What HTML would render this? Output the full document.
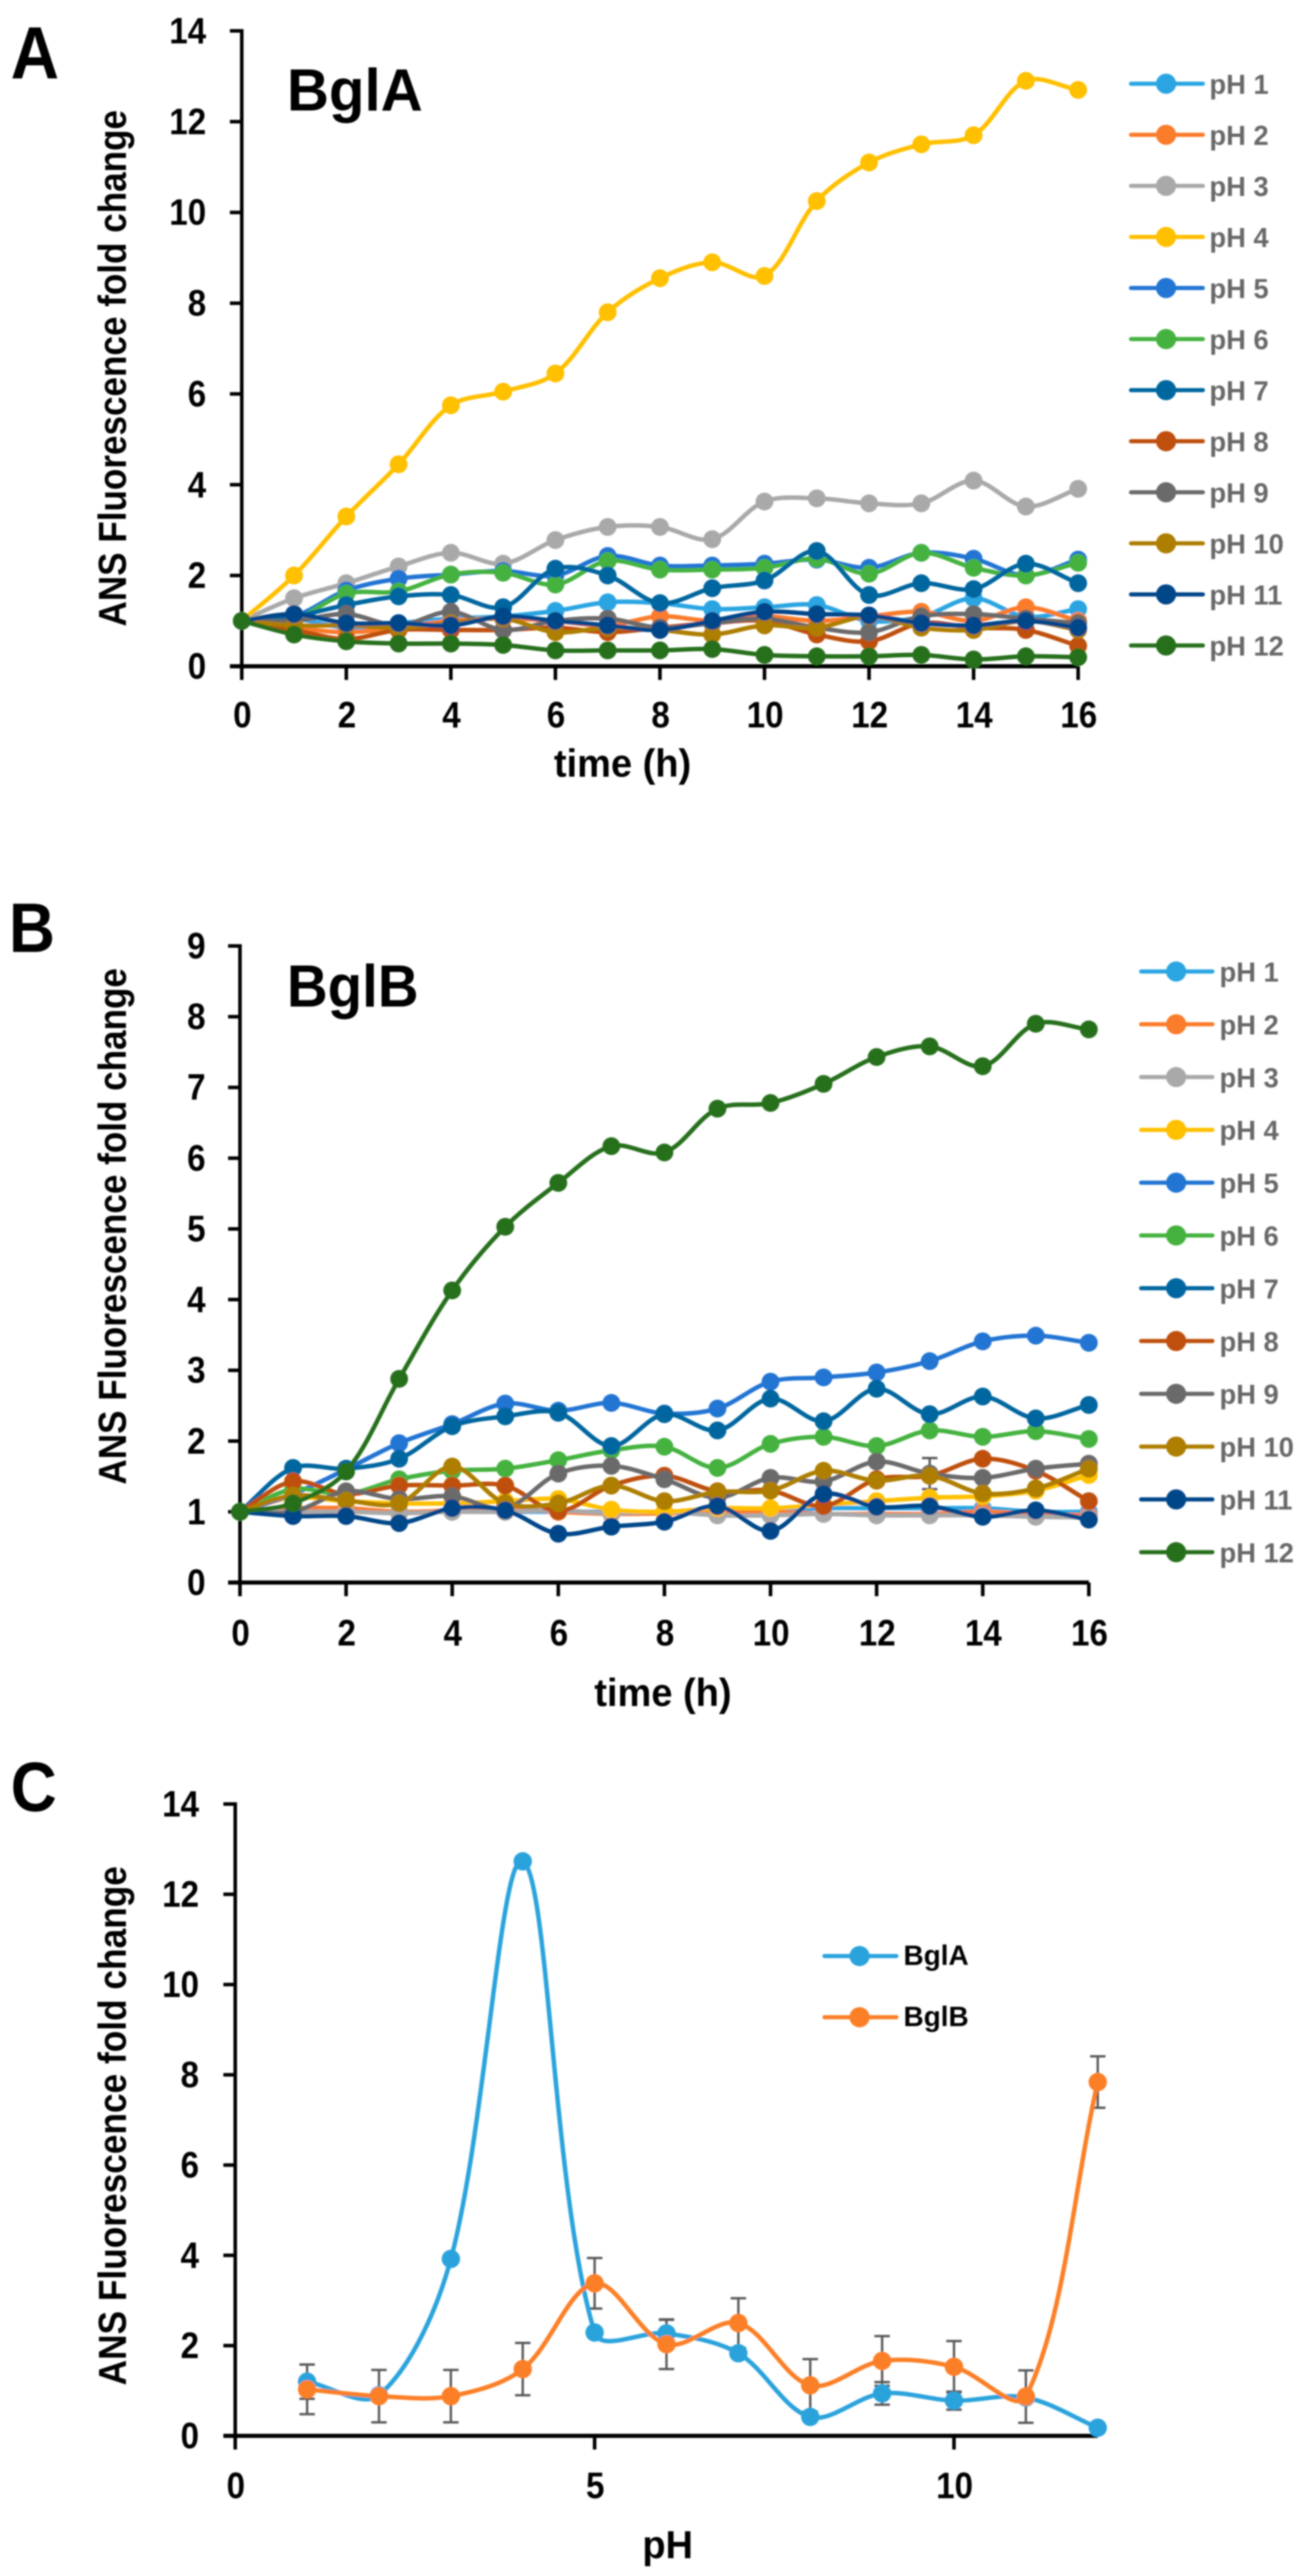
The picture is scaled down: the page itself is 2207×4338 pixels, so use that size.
<!DOCTYPE html>
<html lang="en">
<head>
<meta charset="utf-8">
<title>ANS fluorescence fold change of BglA and BglB</title>
<style>
html,body{margin:0;padding:0;background:#fff;}
svg{display:block;}
text{font-family:"Liberation Sans",sans-serif;font-weight:700;fill:#000;}
</style>
</head>
<body>
<svg id="figure" xmlns="http://www.w3.org/2000/svg" width="2207" height="4338" viewBox="0 0 2207 4338">
<defs><filter id="soft" x="-2%" y="-2%" width="104%" height="104%"><feGaussianBlur stdDeviation="1.4"/></filter></defs>
<rect width="2207" height="4338" fill="#fff"/>
<g id="root" filter="url(#soft)">
  <text transform="translate(18,132) scale(.91,1)" font-size="124">A</text>
  <text transform="translate(15,1603) scale(.91,1)" font-size="118">B</text>
  <text transform="translate(18,3050) scale(.91,1)" font-size="118">C</text>
  <text transform="translate(483,186) scale(.98,1)" font-size="100">BglA</text>
  <text transform="translate(483,1695) scale(.95,1)" font-size="100">BglB</text>
  <text transform="translate(212,1055) rotate(-90) scale(.895,1)" font-size="66">ANS Fluorescence fold change</text>
  <text transform="translate(212,2500) rotate(-90) scale(.895,1)" font-size="66">ANS Fluorescence fold change</text>
  <text transform="translate(212,4017) rotate(-90) scale(.9,1)" font-size="66">ANS Fluorescence fold change</text>
  <text transform="translate(1048,1308) scale(.97,1)" font-size="66" text-anchor="middle">time (h)</text>
  <text transform="translate(1116,2873) scale(.97,1)" font-size="66" text-anchor="middle">time (h)</text>
  <text transform="translate(1124,4308) scale(.97,1)" font-size="66" text-anchor="middle">pH</text>
</g>
</svg>
<script>
// Shared categories and tick labels
const hours = [0,1,2,3,4,5,6,7,8,9,10,11,12,13,14,15,16];
const phNames = ['pH 1','pH 2','pH 3','pH 4','pH 5','pH 6','pH 7','pH 8','pH 9','pH 10','pH 11','pH 12'];
const xTicksTime = [0,2,4,6,8,10,12,14,16];
const yTicksA = [0,2,4,6,8,10,12,14];
const yTicksB = [0,1,2,3,4,5,6,7,8,9];
const yTicksC = [0,2,4,6,8,10,12,14];
const xTicksC = [0,5,10];

// Panel A (BglA) series
const aPh1 = [1,1.05,.85,.95,1.05,1.1,1.22,1.41,1.39,1.26,1.3,1.35,1,1.09,1.5,1.09,1.26];
const aPh2 = [1,.85,.75,.85,1,1.05,1,.9,1.1,1,1.1,1,1.1,1.2,1,1.3,1];
const aPh3 = [1,1.5,1.83,2.2,2.5,2.26,2.78,3.07,3.07,2.8,3.63,3.7,3.59,3.59,4.09,3.52,3.91];
const aPh4 = [1,2,3.3,4.45,5.75,6.05,6.45,7.8,8.55,8.9,8.6,10.25,11.1,11.5,11.7,12.9,12.7];
const aPh5 = [1,1.1,1.67,1.93,2.02,2.1,2,2.43,2.22,2.22,2.26,2.35,2.17,2.5,2.37,2,2.35];
const aPh6 = [1,1.05,1.6,1.65,2.02,2.06,1.8,2.32,2.13,2.13,2.17,2.37,2.04,2.5,2.17,2,2.28];
const aPh7 = [1,1.1,1.35,1.54,1.57,1.3,2.15,2,1.39,1.72,1.89,2.54,1.57,1.83,1.7,2.26,1.83];
const aPh8 = [1,.8,.6,.8,.8,.8,.85,.75,.85,.95,1,.7,.55,.95,.85,.8,.45];
const aPh9 = [1,1,1.15,.9,1.2,.8,1,1.05,.85,.95,1.05,.85,.75,1.1,1.15,1.05,.95];
const aPh10 = [1,.9,.9,.85,.95,1.05,.75,.85,.8,.7,.9,.85,1.1,.85,.8,1,.8];
const aPh11 = [1,1.15,.95,.95,.9,1.1,1,.9,.8,1,1.2,1.15,1.12,.95,.9,1,.85];
const aPh12 = [1,.7,.55,.5,.5,.47,.35,.35,.35,.38,.25,.22,.22,.25,.15,.22,.2];

// Panel B (BglB) series
const bPh1 = [1,1,1,1,1,1,1,1,1,1.02,1,1.05,1.05,1.05,1.05,1,1];
const bPh2 = [1,1.05,1.05,1,1.02,1.05,1,.97,.98,1,1,.97,.97,.97,1,.97,.95];
const bPh3 = [1,1,1,.98,1,1,1.02,.98,1,.95,.95,.97,.95,.95,.95,.93,.92];
const bPh4 = [1,1.2,1.15,1.12,1.12,1.15,1.18,1.03,1,1.05,1.05,1.1,1.15,1.2,1.22,1.3,1.52];
const bPh5 = [1,1.25,1.6,1.97,2.24,2.53,2.43,2.54,2.39,2.46,2.84,2.9,2.97,3.13,3.41,3.49,3.39];
const bPh6 = [1,1.32,1.25,1.46,1.58,1.61,1.73,1.87,1.92,1.62,1.96,2.06,1.93,2.15,2.06,2.14,2.03];
const bPh7 = [1,1.62,1.61,1.75,2.21,2.35,2.4,1.93,2.38,2.15,2.6,2.28,2.74,2.38,2.63,2.32,2.51];
const bPh8 = [1,1.43,1.25,1.37,1.37,1.37,1.01,1.37,1.51,1.29,1.3,1.08,1.46,1.51,1.75,1.58,1.15];
const bPh9 = [1,1,1.29,1.18,1.22,1.05,1.54,1.65,1.46,1.2,1.48,1.43,1.71,1.54,1.48,1.61,1.68];
const bPh10 = [1,1.23,1.16,1.12,1.64,1.12,1.12,1.37,1.15,1.28,1.3,1.58,1.44,1.51,1.26,1.33,1.61];
const bPh11 = [1,.94,.94,.84,1.05,1.02,.69,.79,.86,1.08,.73,1.25,1.07,1.08,.93,1.02,.89];
const bPh12 = [1,1.12,1.57,2.88,4.13,5.03,5.65,6.17,6.08,6.7,6.78,7.05,7.43,7.58,7.3,7.9,7.82];
const bPh9Error = [0,0,0,0,0,0,0,0,0,0,0,0,0,.22,0,0,0];

// Panel C series
const phValues = [1,2,3,4,5,6,7,8,9,10,11,12];
const cBglA = [1.2,.9,3.92,12.73,2.29,2.27,1.83,.42,.94,.78,.85,.18];
const cBglB = [1.03,.88,.88,1.48,3.38,2.03,2.5,1.12,1.66,1.53,.87,7.84];
const cBglAError = [.38,0,0,0,0,.3,0,0,.25,.2,0,0];
const cBglBError = [.55,.58,.58,.58,.56,.55,.55,.58,.55,.57,.58,.57];

const seriesA = [aPh1,aPh2,aPh3,aPh4,aPh5,aPh6,aPh7,aPh8,aPh9,aPh10,aPh11,aPh12];
const seriesB = [bPh1,bPh2,bPh3,bPh4,bPh5,bPh6,bPh7,bPh8,bPh9,bPh10,bPh11,bPh12];
const phColors = ['#29a5e2','#fb7b29','#a9a9a9','#ffc000','#2274d3','#45b23f','#03669f','#bf4f08','#6b6b6b','#ad7e04','#04478a','#28701f'];

const NS = 'http://www.w3.org/2000/svg';
const root = document.getElementById('root');

function make(tag, attrs, parent) {
  const el = document.createElementNS(NS, tag);
  for (const k in attrs) el.setAttribute(k, attrs[k]);
  (parent || root).appendChild(el);
  return el;
}
function linearScale(d0, d1, r0, r1) {
  return v => r0 + (v - d0) * (r1 - r0) / (d1 - d0);
}
function dist(a, b) {
  return Math.hypot(a[0] - b[0], a[1] - b[1]);
}
// Chord-weighted spline, similar to spreadsheet "smoothed line" rendering
function smoothPath(xs, ys, sx, sy) {
  const p = xs.map((x, i) => [sx(x), sy(ys[i])]);
  let d = 'M' + p[0][0] + ' ' + p[0][1];
  for (let i = 0; i < p.length - 1; i++) {
    const a = p[Math.max(i - 1, 0)], b = p[i], c = p[i + 1], e = p[Math.min(i + 2, p.length - 1)];
    const ab = dist(a, b), bc = dist(b, c), ce = dist(c, e);
    const w1 = bc / (ab + bc || 1) / 3;
    const w2 = bc / (bc + ce || 1) / 3;
    d += ' C' + (b[0] + (c[0] - a[0]) * w1) + ' ' + (b[1] + (c[1] - a[1]) * w1) + ' ' +
         (c[0] - (e[0] - b[0]) * w2) + ' ' + (c[1] - (e[1] - b[1]) * w2) + ' ' + c[0] + ' ' + c[1];
  }
  return d;
}
function drawAxes(panel, sx, sy, xTicks, yTicks, labelRight, xLabelBase) {
  const g = make('g', {});
  
  
  const left = sx(xTicks[0]), right = sx(xTicks[xTicks.length - 1]);
  const right2 = panel === 'c' ? sx(12) : right;
  const bottom = sy(0), top = sy(yTicks[yTicks.length - 1]);
  const yLine = make('line', {x1:left, x2:left, y1:top - 3, y2:bottom + 23, stroke:'#000', 'stroke-width':6}, g);
  
  
  const xLine = make('line', {x1:left - 20, x2:right2, y1:bottom, y2:bottom, stroke:'#000', 'stroke-width':7}, g);
  
  
  yTicks.forEach(v => {
    const tick = make('line', {x1:left - 20, x2:left, y1:sy(v), y2:sy(v), stroke:'#000', 'stroke-width':6}, g);
    
    
    const label = make('text', {transform:'translate(' + labelRight + ',' + (sy(v) + 21) + ') scale(.9,1)', 'font-size':62, 'text-anchor':'end'}, g);
    label.textContent = v;
    
    
  });
  xTicks.forEach(v => {
    const tick = make('line', {x1:sx(v), x2:sx(v), y1:bottom, y2:bottom + 23, stroke:'#000', 'stroke-width':6}, g);
    
    
    const label = make('text', {transform:'translate(' + (sx(v) + 1) + ',' + xLabelBase + ') scale(.9,1)', 'font-size':62, 'text-anchor':'middle'}, g);
    label.textContent = v;
    
    
  });
}
function drawSeries(panel, name, xs, ys, sx, sy, color, r) {
  const g = make('g', {});
  
  
  const path = make('path', {d:smoothPath(xs, ys, sx, sy), fill:'none', stroke:color, 'stroke-width':7.5, 'stroke-linejoin':'round'}, g);
  
  
  xs.forEach((x, i) => {
    const dot = make('circle', {cx:sx(x), cy:sy(ys[i]), r:r, fill:color}, g);
    
    
  });
}
function drawErrors(panel, name, xs, ys, errs, sx, sy) {
  xs.forEach((x, i) => {
    if (!errs[i]) return;
    const px = sx(x), hi = sy(ys[i] + errs[i]), lo = sy(ys[i] - errs[i]);
    const err = make('path', {d:'M' + px + ' ' + lo + 'V' + hi + 'M' + (px - 13) + ' ' + hi + 'H' + (px + 13) + 'M' + (px - 13) + ' ' + lo + 'H' + (px + 13), fill:'none', stroke:'#5a5a5a', 'stroke-width':4});
    
    
  });
}
function legendEntry(panel, name, color, lineStart, lineEnd, markerX, textX, y, size, textColor, baseOffset) {
  const g = make('g', {});
  
  
  const ln = make('line', {x1:lineStart, x2:lineEnd, y1:y, y2:y, stroke:color, 'stroke-width':7, 'stroke-linecap':'round'}, g);
  
  
  const mk = make('circle', {cx:markerX, cy:y, r:17, fill:color}, g);
  
  
  const tx = make('text', {x:textX, y:y + baseOffset, 'font-size':size}, g);
  tx.style.fill = textColor;
  tx.textContent = name;
  
  
}

// Panel A
const xA = linearScale(0, 16, 407, 1815);
const yA = linearScale(0, 14, 1122, 52);
drawAxes('a', xA, yA, xTicksTime, yTicksA, 347, 1225);
seriesA.forEach((vals, i) => drawSeries('a', 'ph' + (i + 1), hours, vals, xA, yA, phColors[i], 15));
phNames.forEach((name, i) => legendEntry('a', name, phColors[i], 1904, 2025, 1963, 2036, 141 + i * 86, 46, '#686868', 17));

// Panel B
const xB = linearScale(0, 16, 404, 1833);
const yB = linearScale(0, 9, 2665, 1593);
drawAxes('b', xB, yB, xTicksTime, yTicksB, 346, 2771);
drawErrors('b', 'ph9', hours, bPh9, bPh9Error, xB, yB);
seriesB.forEach((vals, i) => drawSeries('b', 'ph' + (i + 1), hours, vals, xB, yB, phColors[i], 15));
phNames.forEach((name, i) => legendEntry('b', name, phColors[i], 1921, 2041, 1980, 2053, 1636 + i * 88.9, 46, '#686868', 17));

// Panel C
const xC = linearScale(0, 5, 396, 1001);
const yC = linearScale(0, 14, 4102, 3038);
drawAxes('c', xC, yC, xTicksC, yTicksC, 335, 4207);
drawErrors('c', 'bgla', phValues, cBglA, cBglAError, xC, yC);
drawErrors('c', 'bglb', phValues, cBglB, cBglBError, xC, yC);
drawSeries('c', 'bgla', phValues, cBglA, xC, yC, '#29a3dc', 15.5);
drawSeries('c', 'bglb', phValues, cBglB, xC, yC, '#fb7f27', 15.5);
legendEntry('c', 'BglA', '#29a3dc', 1388, 1509, 1447, 1521, 3294, 47, '#000', 15);
legendEntry('c', 'BglB', '#fb7f27', 1388, 1509, 1447, 1521, 3397, 47, '#000', 15);
</script>
</body>
</html>
